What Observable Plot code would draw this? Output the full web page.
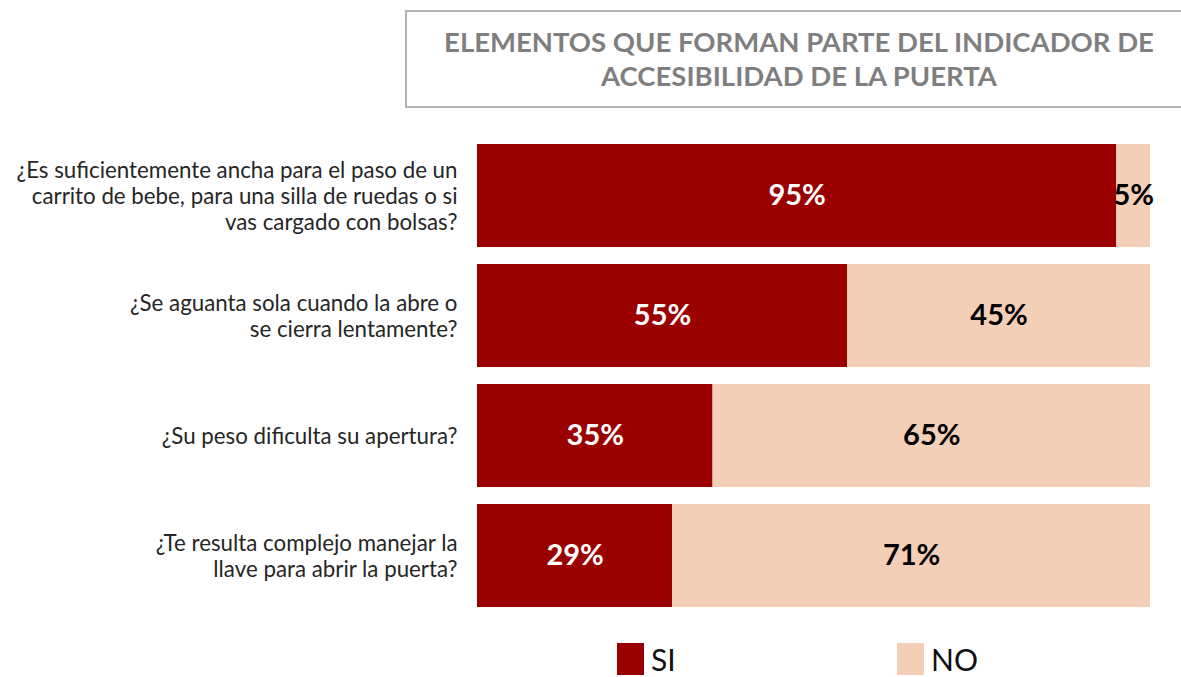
<!DOCTYPE html>
<html>
<head>
<meta charset="utf-8">
<script src="https://cdn.jsdelivr.net/npm/d3@7"></script>
<script src="https://cdn.jsdelivr.net/npm/@observablehq/plot@0.6"></script>
<style>
  html, body { margin: 0; padding: 0; background: #fff; }
  #wrap { position: relative; width: 1181px; height: 677px; overflow: hidden; font-family: Lato, "Open Sans", sans-serif; }
  #title { position: absolute; left: 405px; top: 10px; width: 784px; height: 94px; border: 2px solid #b3b3b3; border-right: none;
           box-sizing: content-box; display: flex; align-items: center; justify-content: center; text-align: center;
           color: #7f7f7f; font-weight: bold; font-size: 27.5px; line-height: 34px; }
  #title span { display: block; width: 784px; }
  #plot { position: absolute; left: 0; top: 0; }
  .leg { position: absolute; top: 643px; height: 32px; line-height: 32px; display: flex; align-items: center; font-size: 30px; color: #111; }
  .leg i { display: inline-block; width: 27px; height: 32px; margin-right: 7px; }
</style>
</head>
<body>
<div id="wrap">
  <div id="title"><span>ELEMENTOS QUE FORMAN PARTE DEL INDICADOR DE<br>ACCESIBILIDAD DE LA PUERTA</span></div>
  <div id="plot"></div>
  <div class="leg" style="left:617px"><i id="swSI"></i>SI</div>
  <div class="leg" style="left:897px"><i id="swNO"></i>NO</div>
</div>
<script>
const questions = [
  "¿Es suficientemente ancha para el paso de un\ncarrito de bebe, para una silla de ruedas o si\nvas cargado con bolsas?",
  "¿Se aguanta sola cuando la abre o\nse cierra lentamente?",
  "¿Su peso dificulta su apertura?",
  "¿Te resulta complejo manejar la\nllave para abrir la puerta?"
];
const answers = ["SI", "NO"];
const siValues = [95, 55, 35, 29];
const noValues = [5, 45, 65, 71];
const colors = ["#9b0000", "#f4cfb8"];

const data = [];
questions.forEach((q, i) => {
  data.push({question: q, answer: "SI", value: siValues[i]});
  data.push({question: q, answer: "NO", value: noValues[i]});
});

document.getElementById("swSI").style.background = colors[0];
document.getElementById("swNO").style.background = colors[1];

const chart = Plot.plot({
  width: 1181,
  height: 677,
  marginLeft: 477,
  marginRight: 31,
  marginTop: 125.7,
  marginBottom: 52.8,
  style: {fontFamily: "Lato, 'Open Sans', sans-serif", color: "#262626", background: "transparent"},
  x: {domain: [0, 100], axis: null},
  y: {domain: questions, padding: 0.144, axis: null},
  color: {domain: answers, range: colors},
  marks: [
    Plot.barX(data, Plot.stackX({x: "value", y: "question", fill: "answer"})),
    Plot.text(data, Plot.stackX({x: "value", y: "question", z: "answer",
      text: d => d.answer === "SI" ? d.value + "%" : "", fill: "white", fontSize: 29, fontWeight: "bold"})),
    Plot.text(data, Plot.stackX({x: "value", y: "question", z: "answer",
      text: d => d.answer === "NO" ? d.value + "%" : "", fill: "black", fontSize: 29, fontWeight: "bold"})),
    Plot.axisY({tickSize: 0, tickPadding: 20, fontSize: 22.3, lineHeight: 1.17, label: null})
  ]
});
document.getElementById("plot").appendChild(chart);
</script>
</body>
</html>
